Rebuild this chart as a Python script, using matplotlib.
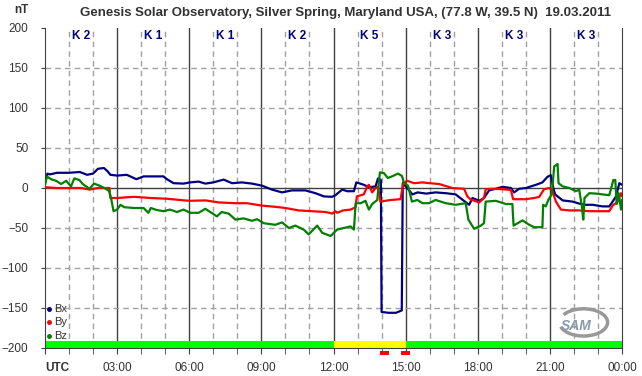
import matplotlib.pyplot as plt
from matplotlib.patches import Rectangle, Arc

# Magnetometer components (nT), hours UTC
hours_bx = [0, 0.1, 0.2, 0.5, 1.0, 1.45, 1.75, 2.0, 2.2, 2.45, 2.6, 2.72, 3.0, 3.4, 3.8, 4.1,
            4.5, 4.93, 5.07, 5.35, 5.76, 6.04, 6.39, 6.67, 7.0, 7.43, 7.78, 8.19, 8.61, 9.02,
            9.44, 9.86, 10.27, 10.83, 11.25, 11.6, 11.94, 12.08, 12.36, 12.57, 12.85, 12.95,
            13.26, 13.47, 13.75, 13.85, 13.97, 14.0, 14.3, 14.6, 14.84, 14.88, 15.07, 15.28,
            15.5, 15.86, 16.25, 16.67, 17.08, 17.36, 17.64, 17.78, 18.06, 18.26, 18.47, 18.75,
            19.03, 19.38, 19.51, 19.72, 20.0, 20.42, 20.69, 20.9, 21.04, 21.14, 21.22, 21.53,
            21.94, 22.22, 22.5, 22.78, 23.19, 23.47, 23.61, 23.75, 23.89, 24.0]
bx = [6, 18, 17, 19, 19, 20, 16.5, 18, 24, 25, 21, 16.5, 15.5, 16.5, 11, 14.5,
      14.5, 14.5, 11, 6, 5.5, 7, 8, 5.5, 7, 10.5, 6, 7, 5.5, 3,
      -2, -5.5, -3, -3, -6.5, -10.5, -11, -9, -2, -4, -4, 7,
      4, 1, 2, 12, 10, -155, -156, -156, -153, 6, 0, -8,
      -5.5, -7, -5.5, -6.5, -8, -14.5, -21, -12.5, -16, -12.5, -3, -1,
      1.5, 0, -5.5, -1, 0, 4, 7, 14, 16, 0, -8, -15.5,
      -17, -19.5, -21, -21, -23, -23, -17, -10.5, 6, 4]

hours_by = [0, 0.5, 1.0, 1.5, 1.85, 2.2, 2.68, 2.72, 3.0, 3.7, 4.4, 5.1, 5.8, 6.04, 6.67,
            7.22, 7.92, 8.4, 9.02, 9.58, 10.0, 10.55, 11.1, 11.67, 11.95, 12.08, 12.15, 12.4,
            12.71, 12.92, 12.97, 13.26, 13.4, 13.47, 13.61, 13.75, 13.85, 13.95, 14.37, 14.79,
            14.9, 15.07, 15.35, 15.7, 16.0, 16.39, 16.94, 17.43, 17.57, 17.71, 18.06, 18.26,
            18.33, 18.61, 19.03, 19.38, 19.47, 19.5, 20.0, 20.35, 20.56, 20.76, 20.97, 21.11,
            21.25, 21.46, 21.81, 22.22, 22.64, 23.06, 23.47, 23.61, 23.82, 23.96, 24.0]
by = [1, 0, 0, 0, -2, 0, 0, -12.5, -12.5, -11, -12.5, -13.5, -15.5, -16, -15.5,
      -18, -19, -19, -22, -23.5, -25, -28, -29, -30, -32, -29, -31, -28,
      -27, -24, -10.5, -8, 2, 4, -5.5, 0, 1.5, -17, -15, -14,
      6, 9, 6, 7, 6, 5, 0, -1, -10.5, -14.5, -18, -12.5,
      -1.5, -1, -1.5, -2.5, -14, -14, -14, -12.5, -11, -1.5, 0, -4,
      -17, -27, -28, -28, -29, -29, -29, -22, -17, -6.5, -10]

hours_bz = [0, 0.08, 0.25, 0.46, 0.67, 0.88, 1.08, 1.22, 1.43, 1.57,
            1.85, 2.04, 2.26, 2.53, 2.67, 2.76, 2.85, 3.0, 3.14, 3.3,
            3.7, 4.1, 4.3, 4.4, 4.65, 4.93, 5.2, 5.49, 5.76, 6.04,
            6.39, 6.67, 7.15, 7.35, 7.64, 7.92, 8.26, 8.61, 8.82, 9.1,
            9.58, 9.86, 10.14, 10.41, 10.76, 10.97, 11.32, 11.53, 11.88, 12.15,
            12.43, 12.71, 12.85, 12.92, 13.13, 13.33, 13.47, 13.61, 13.82, 13.93,
            14.1, 14.26, 14.47, 14.68, 14.85, 14.93, 15.1, 15.26, 15.49, 15.7,
            15.97, 16.25, 16.67, 17.08, 17.5, 17.61, 17.85, 18.13, 18.26, 18.33,
            18.75, 19.17, 19.44, 19.49, 19.86, 20.14, 20.35, 20.69, 20.72, 20.83,
            20.94, 21.08, 21.18, 21.32, 21.36, 21.53, 21.81, 22.08, 22.22, 22.33,
            22.39, 22.44, 22.64, 22.92, 23.19, 23.47, 23.64, 23.72, 23.78, 23.86,
            23.96, 24.0]
bz = [4, 14.5, 11, 9, 5, 9, 2, 12, 10, 5,
      -1, 5.5, 3, -1, -4, -14.5, -29, -27, -21, -24,
      -25, -25, -31, -25, -27.5, -29, -27, -30, -27, -31,
      -31, -26, -35.5, -30, -32, -39.5, -38, -41, -39, -44,
      -46, -43, -50, -47, -52, -58, -47, -56, -60, -52,
      -50, -48, -52, -19, -19, -16, -27, -20, -15, 19.5,
      18.5, 12.5, 15, 18, 15, 6, 3, -17, -15, -19,
      -19, -15, -19, -21, -19, -39.5, -51, -47, -44, -17,
      -16, -20, -20, -47, -40.5, -46, -49, -49, -21, -23,
      -14.5, -8, 27, 30, 6, 2, 0, -4, -2, -23,
      -39.5, -12.5, -6.5, -7, -8, -9, 10, 10, -20, -6.5,
      -27, -15]

# K index per 3-hour block
k_index = [2, 1, 1, 2, 5, 3, 3, 3]

# activity bar along the bottom (start hour, end hour, colour)
band_start = [0, 12, 15]
band_end = [12, 15, 24]
band_color = ["#00ff00", "#ffff00", "#00ff00"]

# red marks under the axis
alert_start = [13.94, 14.81]
alert_end = [14.30, 15.17]

x_ticks = [0, 3, 6, 9, 12, 15, 18, 21, 24]
x_labels = ["UTC", "03:00", "06:00", "09:00", "12:00", "15:00", "18:00", "21:00", "00:00"]
y_ticks = [-200, -150, -100, -50, 0, 50, 100, 150, 200]

plt.rcParams["font.family"] = ["Liberation Sans", "DejaVu Sans"]

fig = plt.figure(figsize=(6.42, 3.76), dpi=100)
ax = fig.add_axes([45 / 642, 28 / 376, 577 / 642, 320 / 376])
ax.set_xlim(0, 24)
ax.set_ylim(-200, 200)

# grid
for h in range(1, 24):
    if h % 3 == 0:
        ax.axvline(h, color="#404040", lw=1, zorder=1)
    else:
        ax.axvline(h, color="#a0a0a0", lw=1, ls=(0, (4, 3)), zorder=1)
for y in y_ticks[1:-1]:
    if y == 0:
        ax.axhline(y, color="#404040", lw=1, zorder=1)
    else:
        ax.axhline(y, color="#a0a0a0", lw=1, ls=(0, (4, 3)), zorder=1)

# bottom activity band and markers
for s, e, c in zip(band_start, band_end, band_color):
    ax.add_patch(Rectangle((s, -200), e - s, 9, color=c, lw=0, zorder=2))
for s, e in zip(alert_start, alert_end):
    ax.add_patch(Rectangle((s, -208.5), e - s, 5, color="#ff0000", lw=0,
                           clip_on=False, zorder=5))

# data
ax.plot(hours_bx, bx, color="#000080", lw=1.6, zorder=3)
ax.plot(hours_by, by, color="#ff0000", lw=1.6, zorder=3)
ax.plot(hours_bz, bz, color="#008000", lw=1.6, zorder=3)

# K labels
for i, k in enumerate(k_index):
    ax.text(3 * i + 1.5, 190, f"K {k}", color="#000080", fontsize=8.5,
            fontweight="bold", ha="center", va="center", zorder=4)

# legend
for y, name, c in zip([-151, -168, -185], ["Bx", "By", "Bz"], ["#000080", "#ff0000", "#008000"]):
    ax.plot([0.17], [y], marker="o", ms=2.5, color=c, zorder=4)
    ax.text(0.4, y, name, fontsize=8, color="#333333", va="center", zorder=4)

# SAM logo
ax.add_patch(Arc((22.4, -168), 2.0, 34, theta1=-100, theta2=95, color="#999999",
                 lw=2.5, zorder=4))
ax.text(22.1, -172, "SAM", fontsize=10, style="italic", fontweight="bold",
        color="#8899aa", ha="center", va="center", zorder=5)

# axes styling
for side in ["left", "bottom", "right"]:
    ax.spines[side].set_color("#404040")
ax.spines["top"].set_visible(False)
ax.set_xticks(x_ticks)
ax.set_xticklabels(x_labels)
ax.set_xticks(range(25), minor=True)
ax.set_yticks(y_ticks)
ax.tick_params(axis="x", which="both", length=4, color="#404040", labelsize=8.5,
               labelcolor="#333333", pad=6)
ax.tick_params(axis="y", length=3, color="#404040", labelsize=8.5,
               labelcolor="#333333", pad=9)
first = ax.get_xticklabels()[0]
first.set_fontweight("bold")
first.set_horizontalalignment("left")

fig.text(14 / 642, 1 - 10 / 376, "nT", fontsize=8.5, fontweight="bold",
         color="#333333", va="center")
fig.text(345 / 642, 1 - 13 / 376,
         "Genesis Solar Observatory, Silver Spring, Maryland USA, (77.8 W, 39.5 N)  19.03.2011",
         fontsize=9.5, fontweight="bold", color="#333333", ha="center", va="center")

fig.savefig("out.png", dpi=100)
